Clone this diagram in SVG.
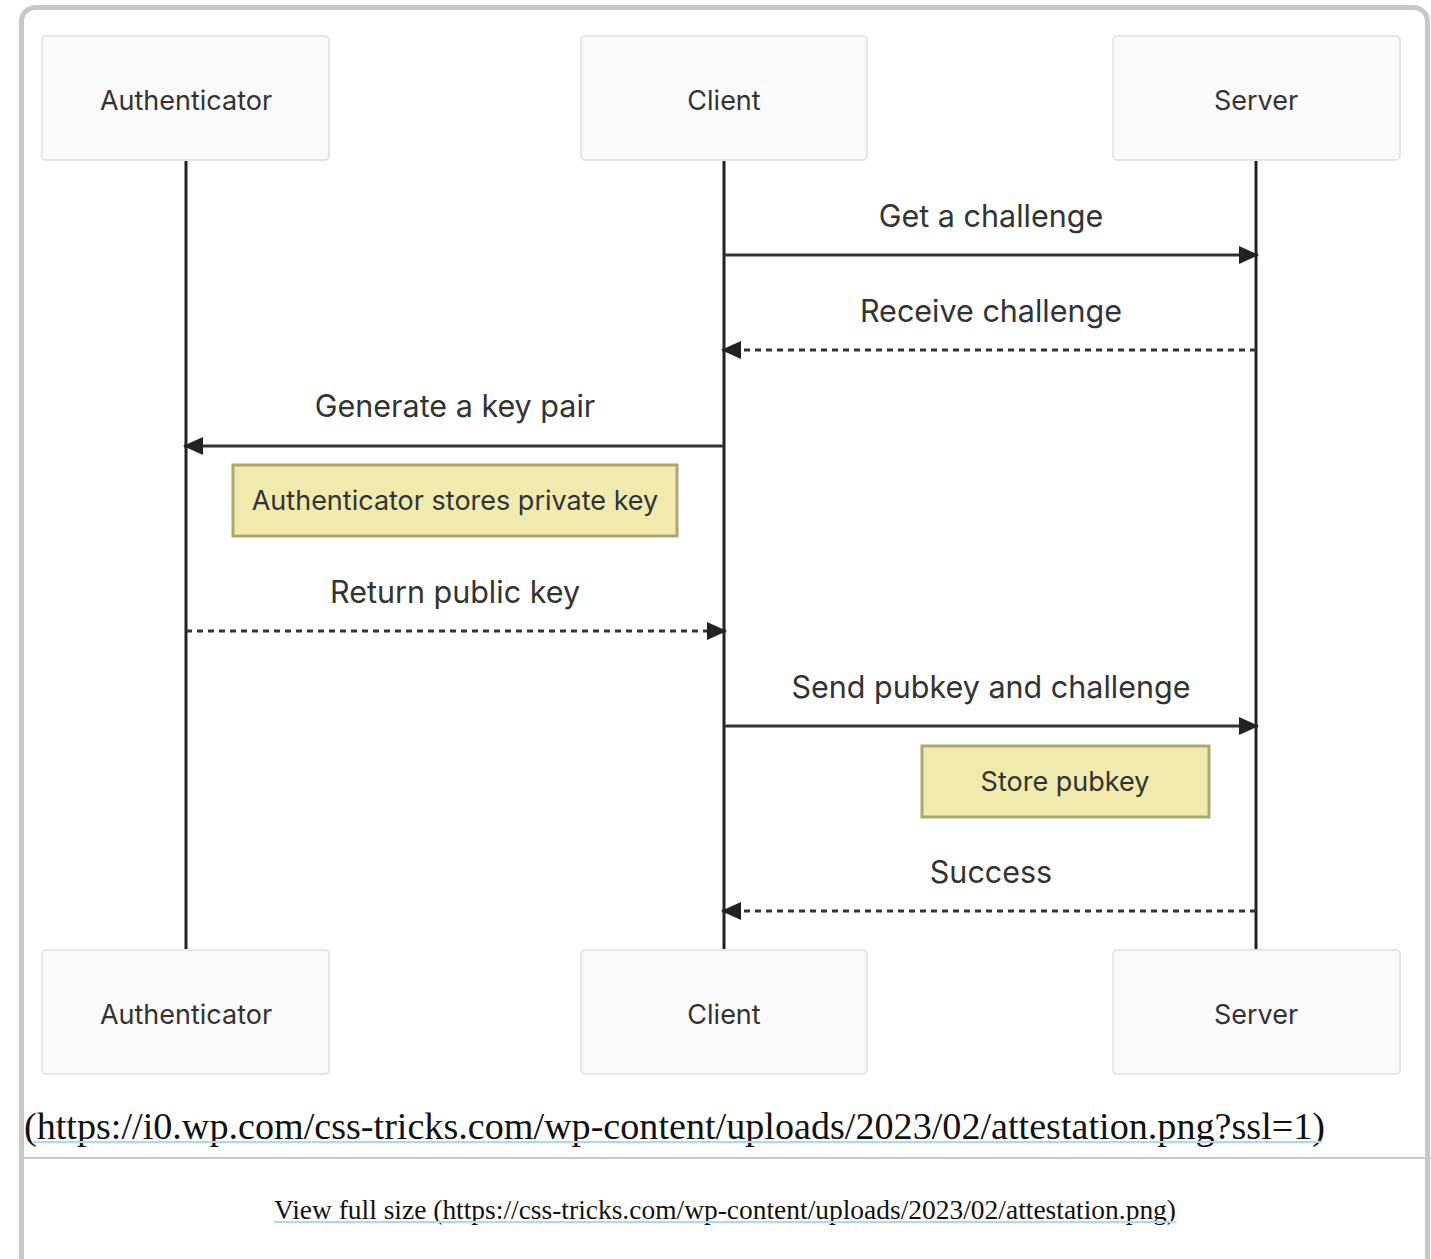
<svg xmlns="http://www.w3.org/2000/svg" width="1431" height="1259" viewBox="0 0 1431 1259">
<defs>
<style>
.actor rect{fill:#fafafa;stroke:#e6e6e6;stroke-width:2}
.actor text{font-family:Inter,"Noto Sans",sans-serif;font-size:27px;fill:#333;text-anchor:middle;dominant-baseline:central}
.life{stroke:#222;stroke-width:3}
.msg{stroke:#333;stroke-width:3;fill:none}
.dash{stroke-dasharray:6 5}
.mlabel{font-family:Inter,"Noto Sans",sans-serif;font-size:30.5px;fill:#333;text-anchor:middle}
.note rect{fill:#f0eaaf;stroke:#aaaa6e;stroke-width:3}
.note text{font-family:Inter,"Noto Sans",sans-serif;font-size:27px;fill:#333;text-anchor:middle;dominant-baseline:central}
.cap{font-family:"Liberation Serif","DejaVu Serif",serif;fill:#111}
.ul{stroke:#a8dcf5;stroke-width:2}
</style>
<marker id="ah" markerUnits="userSpaceOnUse" markerWidth="20" markerHeight="18" viewBox="0 0 20 18" refX="19" refY="9" orient="auto">
<path d="M0,0 L20,9 L0,18 Z" fill="#222"/>
</marker>
</defs>
<rect x="21.5" y="7.5" width="1406" height="1270" rx="14" fill="#fff" stroke="#c8c8c8" stroke-width="5"/>
<line x1="24" y1="1158" x2="1431" y2="1158" stroke="#c8c8c8" stroke-width="2"/>
<g id="lifelines">
<line class="life" x1="186" y1="160" x2="186" y2="950"/>
<line class="life" x1="724" y1="160" x2="724" y2="950"/>
<line class="life" x1="1256" y1="160" x2="1256" y2="950"/>
</g>
<g id="actor-authenticator-top" class="actor"><rect x="42" y="36" width="287" height="124" rx="4"/><text x="186" y="100">Authenticator</text></g>
<g id="actor-client-top" class="actor"><rect x="581" y="36" width="286" height="124" rx="4"/><text x="724" y="100">Client</text></g>
<g id="actor-server-top" class="actor"><rect x="1113" y="36" width="287" height="124" rx="4"/><text x="1256" y="100">Server</text></g>
<g id="actor-authenticator-bottom" class="actor"><rect x="42" y="950" width="287" height="124" rx="4"/><text x="186" y="1014">Authenticator</text></g>
<g id="actor-client-bottom" class="actor"><rect x="581" y="950" width="286" height="124" rx="4"/><text x="724" y="1014">Client</text></g>
<g id="actor-server-bottom" class="actor"><rect x="1113" y="950" width="287" height="124" rx="4"/><text x="1256" y="1014">Server</text></g>
<g id="connectors">
<line class="msg" x1="724" y1="255" x2="1258" y2="255" marker-end="url(#ah)"/>
<text class="mlabel" x="991" y="227">Get a challenge</text>
<line class="msg dash" x1="1256" y1="350" x2="722" y2="350" marker-end="url(#ah)"/>
<text class="mlabel" x="991" y="322">Receive challenge</text>
<line class="msg" x1="724" y1="446" x2="184" y2="446" marker-end="url(#ah)"/>
<text class="mlabel" x="455" y="417">Generate a key pair</text>
<line class="msg dash" x1="186" y1="631" x2="726" y2="631" marker-end="url(#ah)"/>
<text class="mlabel" x="455" y="603">Return public key</text>
<line class="msg" x1="724" y1="726" x2="1258" y2="726" marker-end="url(#ah)"/>
<text class="mlabel" x="991" y="698">Send pubkey and challenge</text>
<line class="msg dash" x1="1256" y1="911" x2="722" y2="911" marker-end="url(#ah)"/>
<text class="mlabel" x="991" y="883">Success</text>
</g>
<g id="note-private-key" class="note"><rect x="233" y="465" width="444" height="71"/><text x="455" y="500">Authenticator stores private key</text></g>
<g id="note-store-pubkey" class="note"><rect x="922" y="746" width="287" height="71"/><text x="1065" y="781">Store pubkey</text></g>
<g id="caption">
<text class="cap" x="24" y="1139" font-size="37" textLength="1301" lengthAdjust="spacingAndGlyphs">(https://i0.wp.com/css-tricks.com/wp-content/uploads/2023/02/attestation.png?ssl=1)</text>
<line class="ul" x1="33" y1="1142" x2="1322" y2="1142"/>
<text class="cap" x="274" y="1219" font-size="27" textLength="902" lengthAdjust="spacingAndGlyphs">View full size (https://css-tricks.com/wp-content/uploads/2023/02/attestation.png)</text>
<line class="ul" x1="274" y1="1222" x2="1176" y2="1222"/>
</g>
</svg>
